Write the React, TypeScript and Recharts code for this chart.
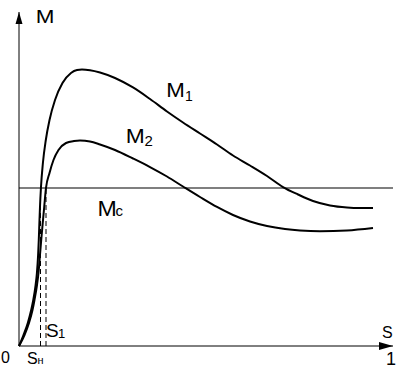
import { LineChart, Line, XAxis, YAxis } from 'recharts'

// slip s (0..1) and torque M (arbitrary units, 0..100)
const m1Curve = [
  { s: 0, m: 0 },
  { s: 0.012, m: 3.29 },
  { s: 0.0235, m: 6.89 },
  { s: 0.0326, m: 10.78 },
  { s: 0.0382, m: 13.77 },
  { s: 0.0444, m: 18.26 },
  { s: 0.0479, m: 21.86 },
  { s: 0.0511, m: 27.25 },
  { s: 0.0529, m: 31.74 },
  { s: 0.0548, m: 37.72 },
  { s: 0.0561, m: 41.62 },
  { s: 0.0588, m: 47.6 },
  { s: 0.0639, m: 54.79 },
  { s: 0.0717, m: 61.68 },
  { s: 0.0816, m: 67.66 },
  { s: 0.0963, m: 73.65 },
  { s: 0.1163, m: 78.74 },
  { s: 0.139, m: 81.74 },
  { s: 0.1551, m: 82.63 },
  { s: 0.1684, m: 82.78 },
  { s: 0.1898, m: 82.57 },
  { s: 0.2166, m: 81.89 },
  { s: 0.2567, m: 80.24 },
  { s: 0.3048, m: 77.4 },
  { s: 0.3503, m: 73.95 },
  { s: 0.3957, m: 70.21 },
  { s: 0.4385, m: 66.92 },
  { s: 0.484, m: 63.62 },
  { s: 0.5294, m: 60.33 },
  { s: 0.5722, m: 57.04 },
  { s: 0.6176, m: 54.04 },
  { s: 0.6631, m: 50.9 },
  { s: 0.7059, m: 47.6 },
  { s: 0.746, m: 45.36 },
  { s: 0.7861, m: 43.41 },
  { s: 0.8316, m: 42.07 },
  { s: 0.877, m: 41.47 },
  { s: 0.9118, m: 41.32 },
  { s: 0.9465, m: 41.32 },
]

const m2Curve = [
  { s: 0, m: 0 },
  { s: 0.0147, m: 3.29 },
  { s: 0.0267, m: 6.89 },
  { s: 0.0361, m: 10.78 },
  { s: 0.0414, m: 13.77 },
  { s: 0.0481, m: 18.26 },
  { s: 0.0521, m: 21.86 },
  { s: 0.0561, m: 27.25 },
  { s: 0.0594, m: 31.74 },
  { s: 0.0642, m: 37.72 },
  { s: 0.0674, m: 41.62 },
  { s: 0.0722, m: 47.31 },
  { s: 0.0816, m: 51.8 },
  { s: 0.0922, m: 55.69 },
  { s: 0.1056, m: 58.68 },
  { s: 0.1257, m: 60.78 },
  { s: 0.1471, m: 61.38 },
  { s: 0.1631, m: 61.53 },
  { s: 0.1898, m: 61.23 },
  { s: 0.2166, m: 60.33 },
  { s: 0.2567, m: 58.68 },
  { s: 0.3048, m: 56.14 },
  { s: 0.3503, m: 53.59 },
  { s: 0.3957, m: 50.75 },
  { s: 0.4385, m: 47.75 },
  { s: 0.484, m: 44.61 },
  { s: 0.5294, m: 41.62 },
  { s: 0.5722, m: 39.22 },
  { s: 0.6176, m: 37.28 },
  { s: 0.6631, m: 35.93 },
  { s: 0.7112, m: 35.03 },
  { s: 0.7513, m: 34.58 },
  { s: 0.8048, m: 34.34 },
  { s: 0.877, m: 34.58 },
  { s: 0.9465, m: 35.33 },
]

const mcLevel = 47.31
const sNominal = 0.0575
const s1 = 0.0722

const mcLine = [
  { s: 0, m: mcLevel },
  { s: 1, m: mcLevel },
]
const sNomLine = [
  { s: sNominal, m: 0 },
  { s: sNominal, m: mcLevel },
]
const s1Line = [
  { s: s1, m: 0 },
  { s: s1, m: mcLevel },
]
const xAxisLine = [
  { s: 0, m: 0 },
  { s: 1, m: 0 },
]
const yAxisLine = [
  { s: 0, m: 0 },
  { s: 0, m: 100 },
]

const font = '"Liberation Sans", Arial, sans-serif'

function arrowDot(dir: 'right' | 'up', last: number) {
  return (props: any) => {
    const { cx, cy, index } = props
    if (index !== last) return <g key={`d${index}`} />
    const pts =
      dir === 'right'
        ? `${cx},${cy} ${cx - 14},${cy - 4} ${cx - 14},${cy + 4}`
        : `${cx},${cy} ${cx - 3.5},${cy + 12} ${cx + 3.5},${cy + 12}`
    return <polygon key={`d${index}`} points={pts} fill="#000" />
  }
}

export default function App() {
  return (
    <div style={{ position: 'fixed', left: 0, top: 0, width: 400, height: 373, background: '#fff' }}>
      <LineChart width={400} height={373} margin={{ top: 0, right: 0, bottom: 0, left: 0 }}>
        <XAxis dataKey="s" type="number" domain={[-0.0508, 1.0187]} allowDataOverflow hide />
        <YAxis type="number" domain={[-8.08, 103.59]} allowDataOverflow hide />
        <Line data={xAxisLine} dataKey="m" type="linear" stroke="#000" strokeWidth={1}
          dot={arrowDot('right', 1)} activeDot={false} isAnimationActive={false} />
        <Line data={yAxisLine} dataKey="m" type="linear" stroke="#000" strokeWidth={1}
          dot={arrowDot('up', 1)} activeDot={false} isAnimationActive={false} />
        <Line data={mcLine} dataKey="m" type="linear" stroke="#000" strokeWidth={1.2}
          dot={false} activeDot={false} isAnimationActive={false} />
        <Line data={sNomLine} dataKey="m" type="linear" stroke="#000" strokeWidth={1}
          strokeDasharray="5 3" dot={false} activeDot={false} isAnimationActive={false} />
        <Line data={s1Line} dataKey="m" type="linear" stroke="#000" strokeWidth={1}
          strokeDasharray="5 3" dot={false} activeDot={false} isAnimationActive={false} />
        <Line data={m1Curve} dataKey="m" type="monotone" stroke="#000" strokeWidth={2}
          dot={false} activeDot={false} isAnimationActive={false} />
        <Line data={m2Curve} dataKey="m" type="monotone" stroke="#000" strokeWidth={2}
          dot={false} activeDot={false} isAnimationActive={false} />
      </LineChart>
      <svg width={400} height={373} style={{ position: 'absolute', left: 0, top: 0, pointerEvents: 'none' }}
        fontFamily={font} fill="#000">
        <text x={35.7} y={23} fontSize={18} textLength={18.7} lengthAdjust="spacingAndGlyphs">M</text>
        <text x={166.2} y={97.3} fontSize={20} textLength={18.6} lengthAdjust="spacingAndGlyphs">M</text>
        <text x={185} y={101} fontSize={14}>1</text>
        <text x={125.8} y={143.3} fontSize={20.5} textLength={19} lengthAdjust="spacingAndGlyphs">M</text>
        <text x={144.5} y={146.3} fontSize={15}>2</text>
        <text x={97.4} y={216} fontSize={22} textLength={19.3} lengthAdjust="spacingAndGlyphs">M</text>
        <text x={115.5} y={216} fontSize={15}>c</text>
        <text x={382} y={338} fontSize={16}>S</text>
        <text x={386} y={365} fontSize={18}>1</text>
        <text x={1} y={363} fontSize={16}>0</text>
        <text x={27} y={364} fontSize={16}>S</text>
        <text x={37.5} y={364} fontSize={11}>н</text>
        <text x={46} y={337} fontSize={19}>S</text>
        <text x={58} y={338} fontSize={13}>1</text>
      </svg>
    </div>
  )
}
